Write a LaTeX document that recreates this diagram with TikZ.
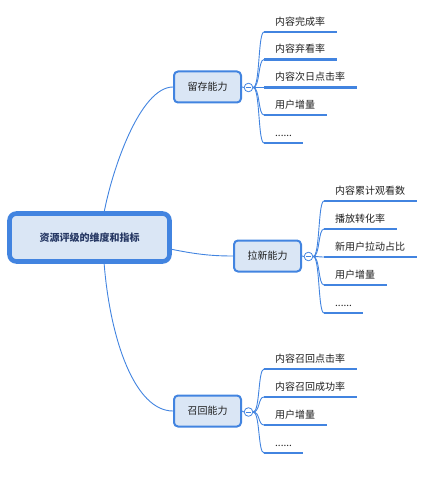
\documentclass[tikz,border=0pt]{standalone}
\usepackage{fontspec}
\setmainfont{Noto Sans CJK SC}
\usetikzlibrary{backgrounds}
\definecolor{mblue}{RGB}{66,132,224}
\definecolor{mfill}{RGB}{218,230,245}
\definecolor{rtext}{RGB}{38,56,100}
\definecolor{ltext}{RGB}{30,30,30}
\newcommand{\sixdots}{......}
\tikzset{
  rootbox/.style={draw=mblue, fill=mfill, line width=4.6pt, rounded corners=7pt,
    minimum width=160pt, minimum height=48pt, inner sep=0pt,
    font=\fontsize{10pt}{12pt}\selectfont\bfseries, text=rtext},
  branchbox/.style={draw=mblue, fill=mfill, line width=2pt, rounded corners=4pt,
    minimum width=67pt, minimum height=31pt, inner sep=0pt,
    font=\fontsize{10pt}{12pt}\selectfont, text=ltext},
  toggle/.style={circle, draw=mblue, fill=white, line width=0.8pt, minimum size=8.6pt, inner sep=0pt},
  leaf/.style={anchor=base west, inner sep=0pt, font=\fontsize{10pt}{12pt}\selectfont, text=ltext},
  conn/.style={draw=mblue, line width=0.9pt},
  uline/.style={draw=mblue, line width=2.4pt},
  minus/.style={draw=mblue, line width=0.7pt}
}
\begin{document}
\begin{tikzpicture}[x=1pt,y=-1pt]
\useasboundingbox (0,0) rectangle (427,478);

\node[rootbox] (root) at (89.5,237.5) {资源评级的维度和指标};
\node[branchbox] (b1) at (207.5,87) {留存能力};
\node[branchbox] (b2) at (267.5,256) {拉新能力};
\node[branchbox] (b3) at (207.5,411) {召回能力};

\coordinate (rt) at (104,213);
\coordinate (rb) at (104,262);
\coordinate (rr) at (170,249);
\begin{scope}[on background layer]
\draw[conn] (rt) .. controls (112,170) and (140,87) .. (b1.west);
\draw[conn] (rb) .. controls (110,340) and (135,411) .. (b3.west);
\draw[conn] (rr) .. controls (195,254) and (210,256) .. (b2.west);
\end{scope}

% toggles
\node[toggle] (t1) at (248.5,87.5) {};
\node[toggle] (t2) at (308.5,256.5) {};
\node[toggle] (t3) at (248.5,412) {};
\foreach \t in {t1,t2,t3}{
  \draw[minus] ([xshift=-2.2pt]\t.center) -- ([xshift=2.2pt]\t.center);
}
\draw[conn] (b1.east) -- (t1.west);
\draw[conn] (b2.east) -- (t2.west);
\draw[conn] (b3.east) -- (t3.west);

% branch 1 leaves
\foreach \n/\y/\e/\txt in {a1/32/337/内容完成率, a2/59.5/337/内容弃看率, a3/87.5/357/内容次日点击率, a4/115/327/用户增量, a5/143/303/\sixdots}{
  \coordinate (\n s) at (264,\y);
  \coordinate (\n e) at (\e,\y);
  \node[leaf] (\n) at (275,\y-6.5) {\txt};
  \draw[conn] (t1.east) .. controls (260,87.5) and (258,\y) .. (\n s);
  \draw[uline] (\n s) -- (\n e);
}

% branch 2 leaves
\foreach \n/\y/\e/\txt in {c1/201/417/内容累计观看数, c2/229/397/播放转化率, c3/257/417/新用户拉动占比, c4/285/387/用户增量, c5/313/363/\sixdots}{
  \coordinate (\n s) at (324,\y);
  \coordinate (\n e) at (\e,\y);
  \node[leaf] (\n) at (335,\y-6.5) {\txt};
  \draw[conn] (t2.east) .. controls (320,256.5) and (318,\y) .. (\n s);
  \draw[uline] (\n s) -- (\n e);
}

% branch 3 leaves
\foreach \n/\y/\e/\txt in {d1/369/357/内容召回点击率, d2/397/357/内容召回成功率, d3/425/327/用户增量, d4/453/303/\sixdots}{
  \coordinate (\n s) at (264,\y);
  \coordinate (\n e) at (\e,\y);
  \node[leaf] (\n) at (275,\y-6.5) {\txt};
  \draw[conn] (t3.east) .. controls (260,412) and (258,\y) .. (\n s);
  \draw[uline] (\n s) -- (\n e);
}
\end{tikzpicture}
\end{document}
